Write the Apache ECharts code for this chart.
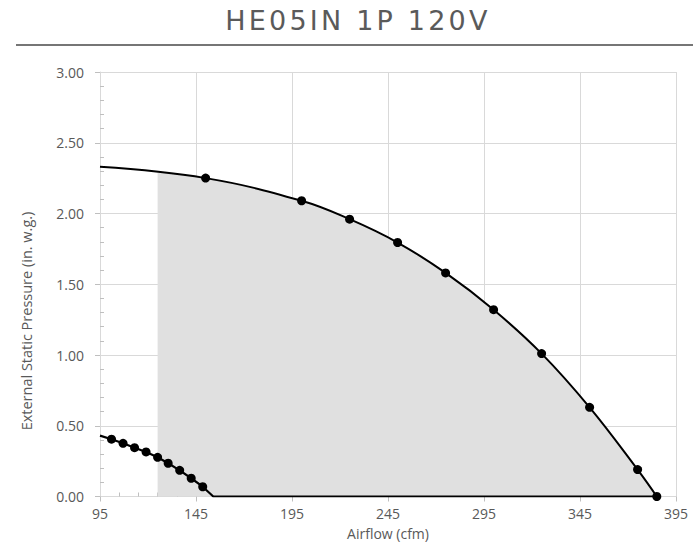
<!DOCTYPE html>
<html><head><meta charset="utf-8">
<script src="https://cdn.jsdelivr.net/npm/echarts@6/dist/echarts.min.js"></script>
<style>
html,body{margin:0;padding:0;background:#fff}
#c{width:693px;height:557px}
#c text[style*="DejaVu"]{letter-spacing:3.2px}
</style>
</head><body><div id="c"></div>
<script>
// ---- data ----
const titleText = 'HE05IN 1P 120V';
const xName = 'Airflow (cfm)';
const yName = 'External Static Pressure (in. w.g.)';
const xMin = 95, xMax = 395, xStep = 50;
const yMin = 0, yMax = 3, yStep = 0.5;
// upper (fan) curve
const upperX = [95, 150, 200, 225, 250, 275, 300, 325, 350, 375, 385];
const upperY = [2.33, 2.25, 2.09, 1.96, 1.795, 1.58, 1.32, 1.01, 0.63, 0.19, 0];
const upperMarked = [false, true, true, true, true, true, true, true, true, true, true];
// shaded operating region
const shadeX = [125, 150, 200, 225, 250, 275, 300, 325, 350, 375, 385];
const shadeY = [2.29, 2.25, 2.09, 1.96, 1.795, 1.58, 1.32, 1.01, 0.63, 0.19, 0];
// lower curve
const lowerX = [95, 101, 107, 113, 119, 125, 130.5, 136.5, 142.5, 148.5, 154, 385];
const lowerY = [0.43, 0.405, 0.376, 0.345, 0.315, 0.277, 0.235, 0.185, 0.129, 0.069, 0, 0];
const lowerMarked = [false, true, true, true, true, true, true, true, true, true, false, false];

// ---- build ----
const toData = (xs, ys, marks) => xs.map((x, i) => {
  const item = { value: [x - xMin, ys[i]] };
  if (marks && !marks[i]) item.symbol = 'none';
  return item;
});

const gridCol = '#d9d9d9';
const tickCol = '#bfbfbf';
const labelFont = { color: '#595959', fontFamily: 'Open Sans', fontSize: 14 };

const chart = echarts.init(document.getElementById('c'), null, { renderer: 'svg' });
const baseX = { type: 'value', min: 0, max: xMax - xMin, interval: xStep };
const baseY = { type: 'value', min: yMin, max: yMax, interval: yStep };
chart.setOption({
  animation: false,
  backgroundColor: '#fff',
  grid: { left: 100, right: 17, top: 72, bottom: 60.5, containLabel: false },
  xAxis: [
    Object.assign({}, baseX, {
      axisLine: { show: true, lineStyle: { color: gridCol, width: 1 } },
      axisTick: { show: true, length: 5, lineStyle: { color: tickCol } },
      axisLabel: Object.assign({ margin: 10, formatter: v => String(v + xMin) }, labelFont),
      splitLine: { show: true, lineStyle: { color: gridCol, width: 1 } },
      minorTick: { show: false }
    }),
    Object.assign({}, baseX, {
      position: 'bottom',
      axisLine: { show: false },
      axisTick: { show: false, inside: true },
      axisLabel: { show: false },
      splitLine: { show: false },
      minorTick: { show: true, splitNumber: 5, length: 4, lineStyle: { color: tickCol } }
    })
  ],
  yAxis: [
    Object.assign({}, baseY, {
      axisLine: { show: true, lineStyle: { color: gridCol, width: 1 } },
      axisTick: { show: true, length: 5, lineStyle: { color: tickCol } },
      axisLabel: Object.assign({ margin: 16, formatter: v => v.toFixed(2) }, labelFont),
      splitLine: { show: true, lineStyle: { color: gridCol, width: 1 } },
      minorTick: { show: false }
    }),
    Object.assign({}, baseY, {
      position: 'left',
      axisLine: { show: false },
      axisTick: { show: false, inside: true },
      axisLabel: { show: false },
      splitLine: { show: false },
      minorTick: { show: true, splitNumber: 5, length: 4, lineStyle: { color: tickCol } }
    })
  ],
  graphic: [
    { type: 'text', x: 358, y: 20, z: 10,
      style: { text: titleText, fill: '#5a5a5a', font: '27px "DejaVu Sans"', textAlign: 'center', textVerticalAlign: 'middle' } },
    { type: 'rect', shape: { x: 16, y: 44, width: 677, height: 2 }, style: { fill: '#767676' } },
    { type: 'text', x: 26, y: 321, rotation: Math.PI / 2,
      style: { text: yName, fill: '#595959', font: '14.5px "Open Sans"', textAlign: 'center', textVerticalAlign: 'middle' } },
    { type: 'text', x: 388, y: 533,
      style: { text: xName, fill: '#595959', font: '14px "Open Sans"', textAlign: 'center', textVerticalAlign: 'middle' } }
  ],
  series: [
    { type: 'line', xAxisIndex: 0, yAxisIndex: 0, data: toData(shadeX, shadeY), smooth: 0.4,
      symbol: 'none', lineStyle: { width: 0 }, areaStyle: { color: '#e0e0e0', opacity: 1 }, z: 1, silent: true },
    { type: 'line', xAxisIndex: 0, yAxisIndex: 0, data: toData(lowerX, lowerY, lowerMarked), smooth: false,
      symbol: 'circle', symbolSize: 9, itemStyle: { color: '#000' }, lineStyle: { color: '#000', width: 2.2 }, z: 3 },
    { type: 'line', xAxisIndex: 0, yAxisIndex: 0, data: toData(upperX, upperY, upperMarked), smooth: 0.4,
      symbol: 'circle', symbolSize: 9, itemStyle: { color: '#000' }, lineStyle: { color: '#000', width: 2 }, z: 3 }
  ]
});
</script>
</body></html>
